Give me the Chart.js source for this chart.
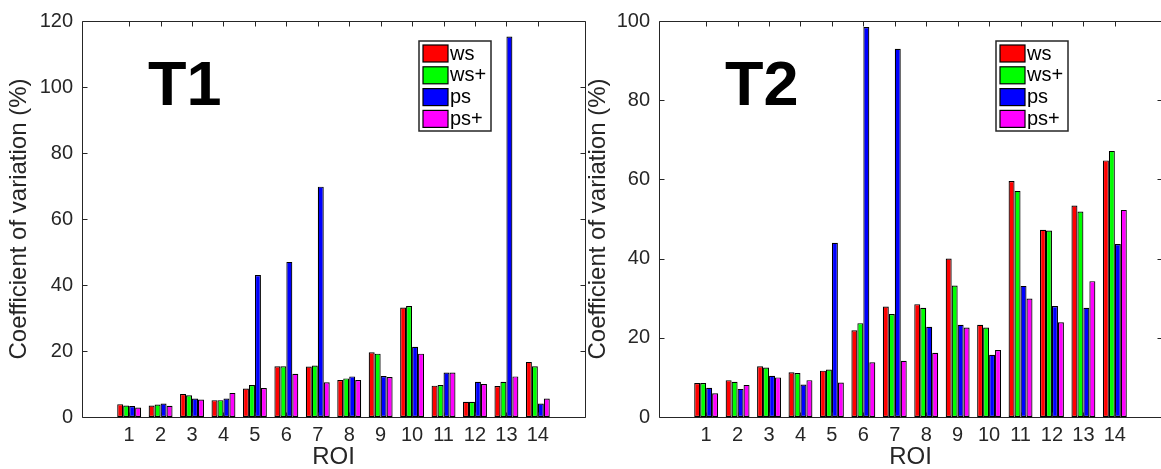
<!DOCTYPE html>
<html>
<head>
<meta charset="utf-8">
<script src="https://cdn.jsdelivr.net/npm/chart.js@4/dist/chart.umd.min.js"></script>
<style>
  html, body { margin: 0; padding: 0; background: #fff; overflow: hidden; }
  #wrap { position: relative; width: 1161px; height: 469px; overflow: hidden; }
  canvas { position: absolute; top: 0; }
</style>
</head>
<body>
<div id="wrap">
  <canvas id="graph1" width="590" height="469" style="left:0"></canvas>
  <canvas id="graph2" width="583" height="469" style="left:580px"></canvas>
</div>
<script>
// ROI numbers on the x axis
const categories = ['1', '2', '3', '4', '5', '6', '7', '8', '9', '10', '11', '12', '13', '14'];
const seriesLabels = ['ws', 'ws+', 'ps', 'ps+'];
const seriesColors = ['#ff0000', '#00ff00', '#0000ff', '#ff00ff'];

// T1 panel
const t1Ws     = [3.9, 3.5, 7.0, 5.1, 8.6, 15.4, 15.3, 11.2, 19.6, 33.2, 9.5, 4.6, 9.4, 16.7];
const t1WsPlus = [3.5, 3.8, 6.6, 5.1, 9.7, 15.4, 15.6, 11.7, 19.2, 33.6, 9.7, 4.6, 10.7, 15.4];
const t1Ps     = [3.3, 4.1, 5.6, 5.6, 43.0, 47.0, 69.8, 12.3, 12.4, 21.3, 13.5, 10.7, 115.3, 4.1];
const t1PsPlus = [2.9, 3.4, 5.3, 7.3, 8.8, 13.1, 10.5, 11.2, 12.1, 19.2, 13.5, 10.0, 12.3, 5.6];

// T2 panel
const t2Ws     = [8.6, 9.3, 12.8, 11.3, 11.7, 21.9, 27.9, 28.5, 40.0, 23.3, 59.6, 47.3, 53.4, 64.8];
const t2WsPlus = [8.6, 8.9, 12.5, 11.1, 12.0, 23.7, 26.0, 27.6, 33.2, 22.6, 57.1, 47.1, 51.9, 67.2];
const t2Ps     = [7.4, 7.1, 10.4, 8.2, 44.0, 98.5, 93.0, 22.8, 23.3, 15.7, 33.1, 28.0, 27.6, 43.7];
const t2PsPlus = [6.0, 8.1, 10.0, 9.3, 8.7, 13.8, 14.2, 16.2, 22.6, 16.9, 29.9, 23.9, 34.3, 52.3];

const t1Max = 120;
const t2Max = 100;
const yStep = 20;

const axisColor = '#262626';
const fontFamily = '"Liberation Sans", Arial, Helvetica, sans-serif';

// matlab-like box, inward ticks, panel title and framed legend
const matlabBox = {
  id: 'matlabBox',
  afterDraw(chart, args, opts) {
    const ctx = chart.ctx;
    const a = chart.chartArea;
    const xs = chart.scales.x, ys = chart.scales.y;
    const L = Math.round(a.left) + 0.5, R = Math.round(a.right) + 0.5;
    const T = Math.round(a.top) + 0.5, B = Math.round(a.bottom) + 0.5;
    ctx.save();
    ctx.strokeStyle = axisColor;
    ctx.lineWidth = 1;
    ctx.beginPath();
    ctx.rect(L, T, R - L, B - T);
    const tl = 5;
    xs.ticks.forEach(t => {
      if (t.value < 1 || t.value > categories.length) return;
      const px = Math.round(xs.getPixelForValue(t.value)) + 0.5;
      ctx.moveTo(px, B); ctx.lineTo(px, B - tl);
      ctx.moveTo(px, T); ctx.lineTo(px, T + tl);
    });
    ys.ticks.forEach(t => {
      const py = Math.round(ys.getPixelForValue(t.value)) + 0.5;
      ctx.moveTo(L, py); ctx.lineTo(L + tl, py);
      ctx.moveTo(R, py); ctx.lineTo(R - tl, py);
    });
    ctx.stroke();

    // big panel title
    ctx.fillStyle = '#000';
    ctx.font = 'bold 63px ' + fontFamily;
    ctx.textBaseline = 'alphabetic';
    ctx.textAlign = 'left';
    ctx.fillText(opts.title, a.left + 66, a.top + 84);

    // legend
    const lx = a.left + 337, ly = a.top + 20, lw = 72, lh = 90;
    ctx.fillStyle = '#fff';
    ctx.fillRect(lx, ly, lw, lh);
    ctx.lineWidth = 1.5;
    ctx.strokeStyle = axisColor;
    ctx.strokeRect(lx, ly, lw, lh);
    ctx.font = '20px ' + fontFamily;
    ctx.textBaseline = 'middle';
    chart.data.datasets.forEach((ds, i) => {
      const sy = ly + 4 + i * 21.8;
      ctx.fillStyle = ds.backgroundColor;
      ctx.fillRect(lx + 4, sy, 25, 17);
      ctx.lineWidth = 1.2;
      ctx.strokeStyle = '#000';
      ctx.strokeRect(lx + 4, sy, 25, 17);
      ctx.fillStyle = '#000';
      ctx.fillText(ds.label, lx + 31, sy + 9);
    });
    ctx.restore();
  }
};

const makeDatasets = (lists) => lists.map((vals, i) => ({
  label: seriesLabels[i],
  backgroundColor: seriesColors[i],
  borderColor: '#000',
  borderWidth: 1.2,
  borderSkipped: false,
  categoryPercentage: 0.76,
  barPercentage: 1.0,
  data: vals.map((v, j) => ({ x: j + 1, y: v }))
}));

const makeOptions = (yMax, yWidth, rightPad, titleText, yTitlePad) => ({
  responsive: false,
  animation: false,
  layout: { padding: { top: 20, right: rightPad, left: 0, bottom: 0 } },
  plugins: {
    legend: { display: false },
    tooltip: { enabled: false },
    matlabBox: { title: titleText }
  },
  scales: {
    x: {
      type: 'linear',
      min: 0,
      max: categories.length + 1,
      grid: { display: false, drawTicks: false },
      border: { display: false },
      ticks: {
        stepSize: 1,
        autoSkip: false,
        maxRotation: 0,
        padding: 6,
        color: axisColor,
        font: { family: fontFamily, size: 20 },
        callback: v => (v >= 1 && v <= categories.length) ? categories[v - 1] : ''
      },
      title: {
        display: true,
        text: 'ROI',
        color: axisColor,
        padding: 0,
        font: { family: fontFamily, size: 24, lineHeight: 1 }
      },
      afterFit: s => { s.height = 52; }
    },
    y: {
      min: 0,
      max: yMax,
      grid: { display: false, drawTicks: false },
      border: { display: false },
      ticks: {
        stepSize: yStep,
        padding: 9,
        color: axisColor,
        font: { family: fontFamily, size: 20 }
      },
      title: {
        display: true,
        text: 'Coefficient of variation (%)',
        color: axisColor,
        padding: { top: yTitlePad },
        font: { family: fontFamily, size: 24, lineHeight: 1 }
      },
      afterFit: s => { s.width = yWidth; }
    }
  }
});

new Chart(document.getElementById('graph1').getContext('2d'), {
  type: 'bar',
  data: { datasets: makeDatasets([t1Ws, t1WsPlus, t1Ps, t1PsPlus]) },
  options: makeOptions(t1Max, 82, 5, 'T1', 7),
  plugins: [matlabBox]
});

new Chart(document.getElementById('graph2').getContext('2d'), {
  type: 'bar',
  data: { datasets: makeDatasets([t2Ws, t2WsPlus, t2Ps, t2PsPlus]) },
  options: makeOptions(t2Max, 79, 1, 'T2', 6),
  plugins: [matlabBox]
});
</script>
</body>
</html>
